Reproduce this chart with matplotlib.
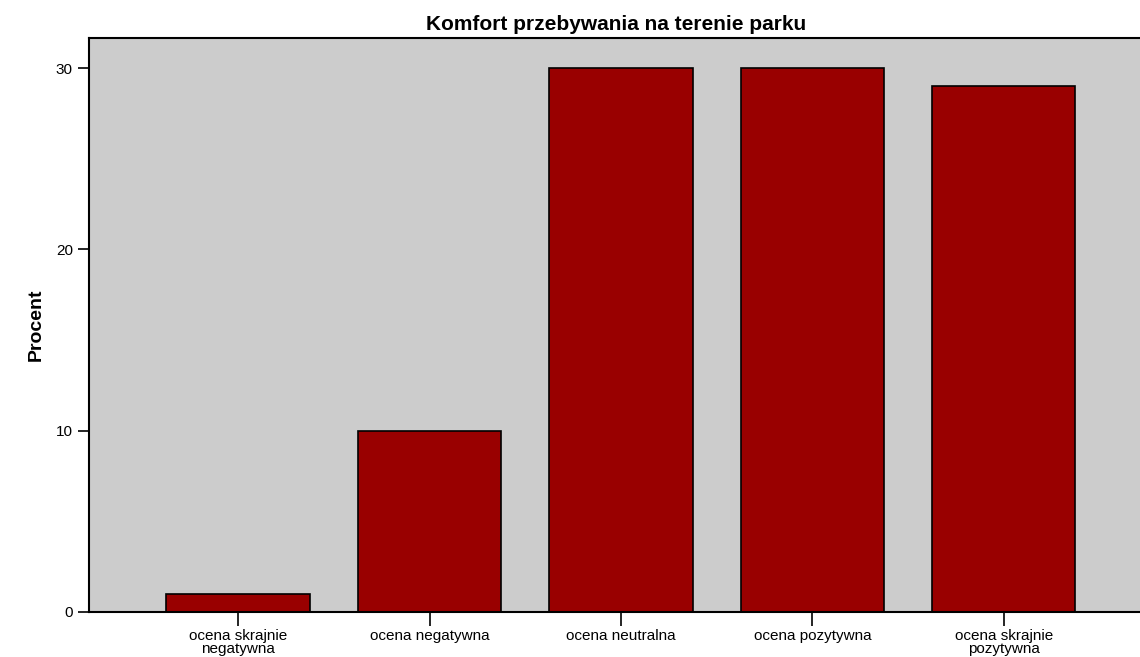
import numpy as np
import matplotlib.pyplot as plt

categories = ['ocena skrajnie\nnegatywna', 'ocena negatywna', 'ocena neutralna',
              'ocena pozytywna', 'ocena skrajnie\npozytywna']
values = [1, 10, 30, 30, 29]
yticks = [0, 10, 20, 30]

fig = plt.figure(figsize=(11.4, 6.57), dpi=100)
ax = fig.add_axes([0.078, 0.0685, 0.925, 0.8735])
ax.set_facecolor('#cccccc')

x = np.arange(len(categories))
ax.bar(x, values, width=0.75, color='#990000', edgecolor='black', linewidth=1.2)

ax.set_xlim(-0.78, 4.73)
ax.set_ylim(0, 31.65)
ax.set_yticks(yticks)
ax.set_xticks(x)
ax.set_xticklabels(categories, fontsize=11, fontfamily='Liberation Sans', linespacing=0.9)
ax.tick_params(axis='y', labelsize=11, length=8, width=1.2, direction='out')
ax.tick_params(axis='x', length=10, width=1.2, direction='out', pad=2)
for lbl in ax.get_yticklabels():
    lbl.set_fontfamily('Liberation Sans')

for s in ax.spines.values():
    s.set_linewidth(1.5)
ax.spines['right'].set_visible(False)

ax.set_ylabel('Procent', fontsize=14, fontweight='bold', fontfamily='Liberation Sans', labelpad=8)
ax.set_title('Komfort przebywania na terenie parku', fontsize=15, fontweight='bold',
             fontfamily='Liberation Sans', pad=6)

fig.savefig('out.png', dpi=100)
